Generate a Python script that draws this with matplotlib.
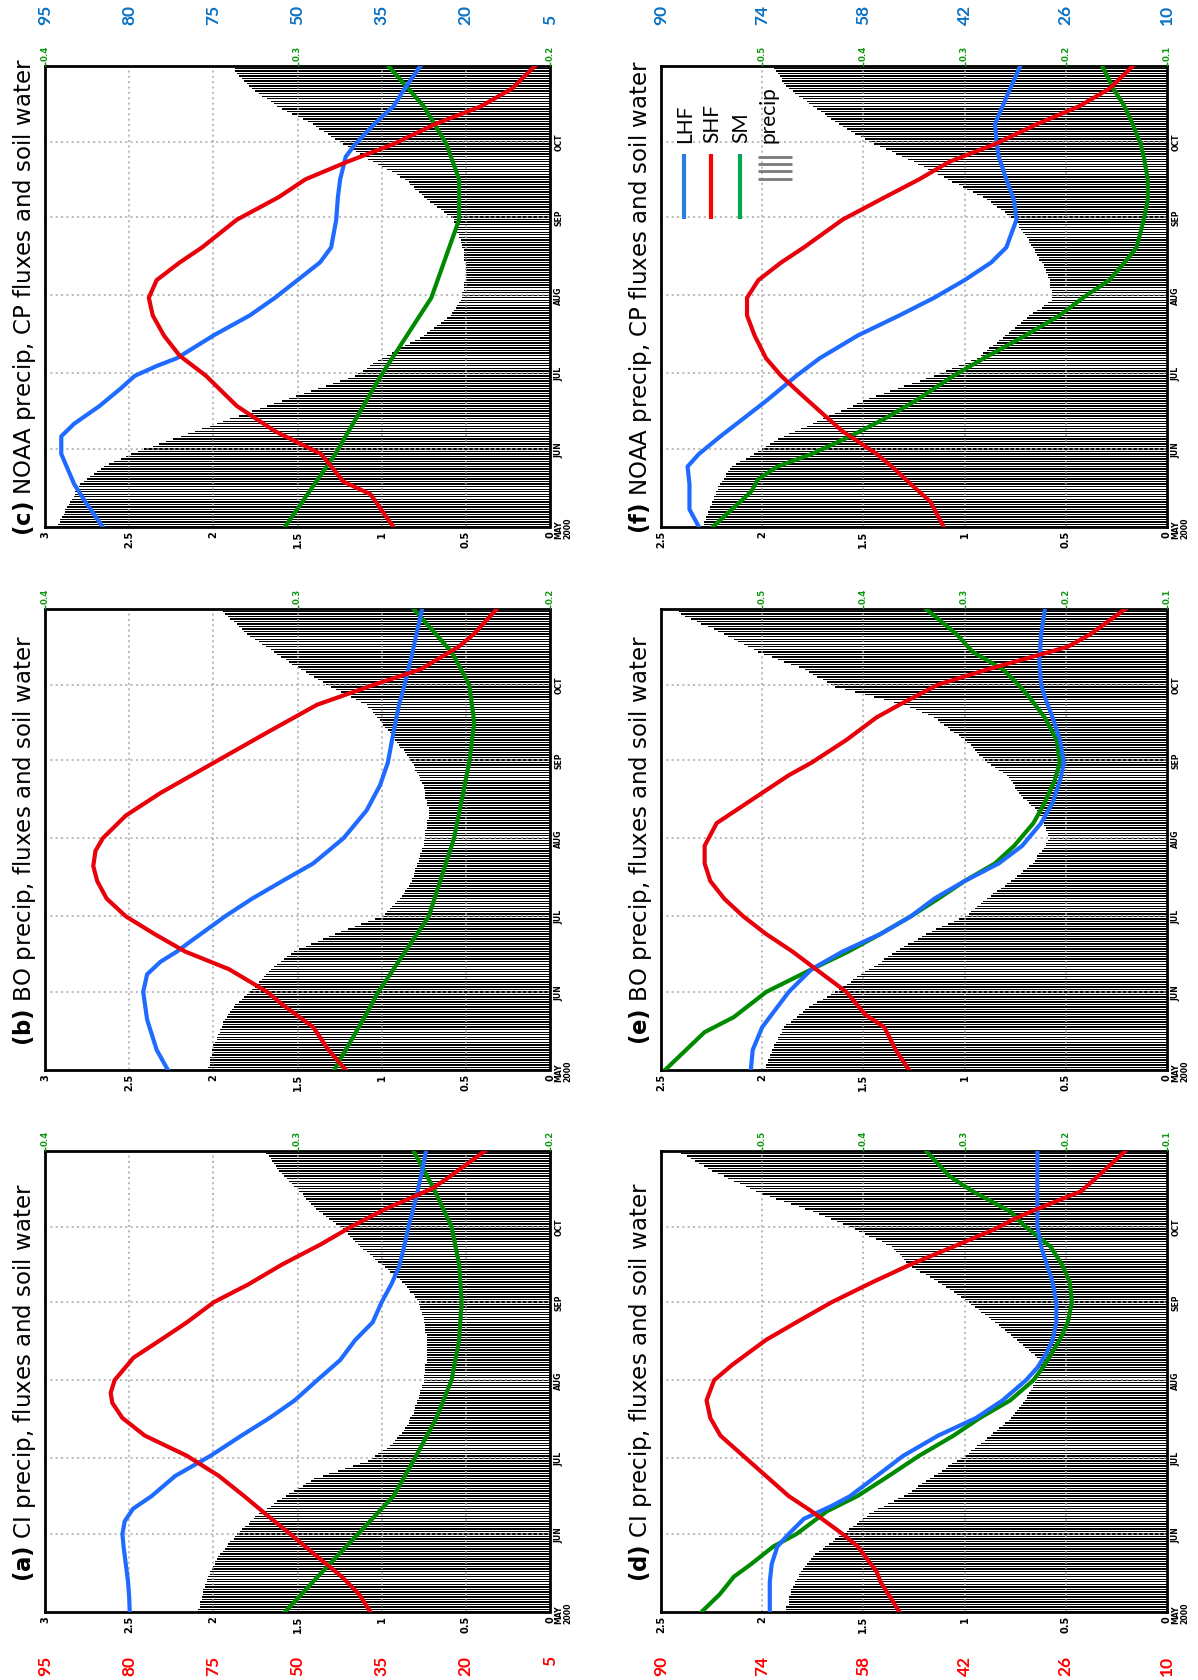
import numpy as np
import matplotlib
matplotlib.use("Agg")
import matplotlib.pyplot as plt
from matplotlib.lines import Line2D

plt.rcParams["font.family"] = ["DejaVu Sans"]

# ---------------------------------------------------------------- data
# Day index 0 = 1 May 2000, 183 = 31 Oct 2000
month_days = [0, 31, 61, 92, 123, 153]
month_labels = ["MAY\n2000", "JUN", "JUL", "AUG", "SEP", "OCT"]

# Daily precipitation (mm/day) for each run
precip_a = [2.09, 2.09, 2.08, 2.08, 2.08, 2.07, 2.07, 2.06, 2.06, 2.06, 2.05,
            2.05, 2.04, 2.04, 2.03, 2.02, 2.02, 2.01, 2.00, 1.99, 1.99,
            1.98, 1.97, 1.96, 1.94, 1.93, 1.92, 1.91, 1.90, 1.88, 1.87,
            1.86, 1.84, 1.83, 1.81, 1.79, 1.78, 1.76,
            1.75, 1.73, 1.71, 1.68, 1.66, 1.64, 1.62, 1.59,
            1.57, 1.55, 1.52, 1.50, 1.47, 1.45, 1.42,
            1.40, 1.35, 1.31, 1.26, 1.22, 1.17, 1.13,
            1.08, 1.06, 1.04, 1.02, 0.99, 0.97, 0.95,
            0.93, 0.92, 0.91, 0.90, 0.88, 0.87, 0.86,
            0.85, 0.84, 0.84, 0.83, 0.82, 0.81, 0.81,
            0.80, 0.80, 0.79, 0.79, 0.78, 0.78, 0.77, 0.77, 0.76, 0.76, 0.75,
            0.75, 0.75, 0.75, 0.74, 0.74, 0.74, 0.74, 0.73, 0.73, 0.73,
            0.73, 0.73, 0.73, 0.73, 0.73, 0.73, 0.73,
            0.73, 0.73, 0.74, 0.74, 0.74, 0.74, 0.75,
            0.75, 0.75, 0.76, 0.76, 0.77, 0.77, 0.78,
            0.78, 0.79, 0.80, 0.81, 0.83, 0.84, 0.85,
            0.86, 0.88, 0.89, 0.91, 0.93, 0.95, 0.96,
            0.98, 1.00, 1.02, 1.04, 1.05, 1.07, 1.09,
            1.11, 1.13, 1.14, 1.16, 1.17, 1.19, 1.20, 1.22, 1.23,
            1.25, 1.27, 1.29, 1.31, 1.33, 1.35, 1.37,
            1.39, 1.40, 1.42, 1.43, 1.45, 1.46, 1.47, 1.49,
            1.50, 1.52, 1.53, 1.55, 1.56, 1.58, 1.59,
            1.61, 1.62, 1.63, 1.64, 1.65, 1.66, 1.67, 1.69, 1.70]

precip_b = [2.03, 2.03, 2.02, 2.02, 2.02, 2.02, 2.01, 2.01,
            2.01, 2.00, 2.00, 1.99, 1.98, 1.98, 1.97, 1.96, 1.96, 1.95, 1.94, 1.94,
            1.93, 1.92, 1.91, 1.90, 1.89, 1.88,
            1.87, 1.85, 1.83, 1.82, 1.80,
            1.78, 1.77, 1.75, 1.74, 1.73, 1.71, 1.70, 1.69, 1.67,
            1.66, 1.64, 1.62, 1.60, 1.58, 1.56, 1.54,
            1.52, 1.49, 1.45, 1.42, 1.38, 1.35, 1.31,
            1.28, 1.24, 1.20, 1.16, 1.12, 1.08, 1.04,
            1.00, 0.98, 0.97, 0.95, 0.94, 0.92, 0.91,
            0.89, 0.88, 0.87, 0.86, 0.85, 0.84, 0.83,
            0.82, 0.82, 0.81, 0.81, 0.80, 0.80, 0.79, 0.79, 0.78, 0.78, 0.77, 0.77, 0.76, 0.76,
            0.75, 0.75, 0.75, 0.74, 0.74, 0.74, 0.74, 0.73, 0.73, 0.73, 0.73, 0.72, 0.72, 0.72,
            0.72, 0.72, 0.73, 0.73, 0.73, 0.74, 0.74, 0.74, 0.74, 0.75,
            0.75, 0.76, 0.77, 0.77, 0.78, 0.79, 0.80, 0.80, 0.81,
            0.82, 0.83, 0.84, 0.85, 0.86, 0.87, 0.89, 0.90, 0.91, 0.92, 0.93, 0.94,
            0.95, 0.96, 0.98, 0.99, 1.00, 1.01, 1.03, 1.04, 1.05, 1.06, 1.08,
            1.09, 1.12, 1.15, 1.18, 1.21, 1.24, 1.27,
            1.30, 1.33, 1.35, 1.38, 1.40, 1.43, 1.45, 1.48, 1.50, 1.53,
            1.55, 1.57, 1.60, 1.62, 1.64, 1.66, 1.69, 1.71, 1.73, 1.75, 1.78,
            1.80, 1.82, 1.83, 1.85, 1.86, 1.88, 1.90, 1.91, 1.93, 1.94, 1.96]

precip_c = [2.93, 2.92, 2.91, 2.91, 2.90, 2.89, 2.88,
            2.88, 2.87, 2.86, 2.85, 2.84, 2.83, 2.82, 2.82, 2.81, 2.80,
            2.79, 2.77, 2.75, 2.73, 2.71, 2.69, 2.67,
            2.65, 2.62, 2.59, 2.55, 2.52,
            2.49, 2.45, 2.41, 2.36, 2.32, 2.28, 2.24, 2.19, 2.15, 2.11, 2.07, 2.02, 1.98, 1.94, 1.90, 1.85,
            1.81, 1.77, 1.72, 1.68, 1.64, 1.59, 1.55, 1.51, 1.46, 1.42, 1.38, 1.33, 1.29, 1.25, 1.20,
            1.16, 1.14, 1.11, 1.09, 1.07, 1.05, 1.02,
            1.00, 0.97, 0.94, 0.91, 0.89, 0.86, 0.83, 0.80,
            0.77, 0.75, 0.73, 0.71, 0.69, 0.67, 0.65, 0.63, 0.61,
            0.59, 0.58, 0.57, 0.56, 0.55, 0.54, 0.53,
            0.52, 0.52, 0.52, 0.51, 0.51, 0.51, 0.51, 0.50, 0.50, 0.50,
            0.50, 0.50, 0.50, 0.50, 0.50, 0.51, 0.51, 0.51, 0.51,
            0.51, 0.52, 0.52, 0.53, 0.53, 0.54, 0.54, 0.55, 0.55, 0.56, 0.56, 0.57,
            0.57, 0.59, 0.61, 0.63, 0.65, 0.67, 0.69, 0.71,
            0.73, 0.75, 0.76, 0.78, 0.80, 0.81, 0.83, 0.84,
            0.86, 0.89, 0.91, 0.94, 0.97, 1.00, 1.02,
            1.05, 1.08, 1.10, 1.13, 1.15, 1.18, 1.20,
            1.23, 1.25, 1.28, 1.30, 1.32, 1.34, 1.37, 1.39,
            1.41, 1.44, 1.47, 1.50, 1.53, 1.56, 1.59,
            1.62, 1.64, 1.66, 1.68, 1.71, 1.73, 1.75,
            1.77, 1.79, 1.80, 1.82, 1.83, 1.85,
            1.86, 1.87, 1.87, 1.88]

precip_d = [1.88, 1.88, 1.88, 1.87, 1.87, 1.87, 1.87, 1.86, 1.86,
            1.86, 1.85, 1.84, 1.84, 1.83, 1.82, 1.82,
            1.81, 1.80, 1.79, 1.78, 1.77, 1.76, 1.75,
            1.74, 1.72, 1.70, 1.69, 1.67, 1.65, 1.64, 1.62,
            1.60, 1.58, 1.57, 1.55, 1.53, 1.52, 1.50, 1.48, 1.47,
            1.45, 1.43, 1.40, 1.38, 1.35, 1.33,
            1.30, 1.28, 1.26, 1.24, 1.23, 1.21, 1.19, 1.17,
            1.15, 1.13, 1.11, 1.09, 1.08, 1.06, 1.04, 1.02,
            1.00, 0.98, 0.97, 0.95, 0.94, 0.92, 0.90, 0.89,
            0.87, 0.86, 0.84, 0.83, 0.81, 0.80, 0.78,
            0.77, 0.76, 0.75, 0.74, 0.73, 0.72, 0.71,
            0.70, 0.69, 0.69, 0.68, 0.67, 0.66, 0.66, 0.65,
            0.64, 0.64, 0.64, 0.63, 0.63, 0.63, 0.63, 0.62,
            0.62, 0.64, 0.65, 0.67, 0.68, 0.70, 0.71, 0.73,
            0.74, 0.76, 0.77, 0.79, 0.80, 0.82, 0.83,
            0.85, 0.87, 0.88, 0.90, 0.92, 0.93, 0.95, 0.97,
            0.98, 1.00, 1.02, 1.04, 1.05, 1.07, 1.09,
            1.11, 1.13, 1.15, 1.17, 1.19, 1.22, 1.24,
            1.26, 1.27, 1.29, 1.30, 1.31, 1.32, 1.34, 1.35,
            1.36, 1.39, 1.41, 1.44, 1.47, 1.49, 1.52, 1.54,
            1.57, 1.60, 1.63, 1.66, 1.69, 1.72,
            1.75, 1.79, 1.82, 1.86, 1.89, 1.93, 1.96,
            2.00, 2.03, 2.06, 2.08, 2.11, 2.14, 2.17, 2.19, 2.22,
            2.25, 2.27, 2.29, 2.31, 2.33, 2.35, 2.37, 2.40, 2.42]

precip_e = [1.99, 1.98, 1.98, 1.97, 1.97, 1.96, 1.96, 1.95,
            1.95, 1.94, 1.94, 1.93, 1.92, 1.92, 1.91, 1.90, 1.90,
            1.89, 1.88, 1.86, 1.85, 1.83, 1.82, 1.80, 1.79,
            1.77, 1.75, 1.73, 1.70, 1.68, 1.66,
            1.64, 1.62, 1.60, 1.58, 1.56, 1.55, 1.53, 1.51, 1.49,
            1.47, 1.45, 1.43, 1.41, 1.40, 1.38, 1.36,
            1.34, 1.32, 1.30, 1.28, 1.25, 1.23, 1.21,
            1.19, 1.16, 1.14, 1.11, 1.08, 1.05, 1.03,
            1.00, 0.98, 0.97, 0.95, 0.94, 0.92, 0.91,
            0.89, 0.87, 0.86, 0.84, 0.82, 0.80, 0.79,
            0.77, 0.75, 0.74, 0.72, 0.71, 0.69, 0.68,
            0.66, 0.65, 0.64, 0.64, 0.63, 0.62, 0.61, 0.60, 0.60, 0.59,
            0.58, 0.59, 0.59, 0.60, 0.60, 0.61, 0.61, 0.62, 0.62, 0.63, 0.63,
            0.64, 0.65, 0.67, 0.68, 0.69, 0.71,
            0.72, 0.73, 0.74, 0.75, 0.75, 0.76, 0.77, 0.78,
            0.79, 0.81, 0.83, 0.85, 0.87,
            0.89, 0.90, 0.91, 0.93, 0.94, 0.95, 0.96, 0.97, 0.99,
            1.00, 1.02, 1.03, 1.05, 1.07, 1.08, 1.10, 1.12, 1.13,
            1.15, 1.18, 1.21, 1.24, 1.27,
            1.30, 1.35, 1.40, 1.45, 1.49, 1.54, 1.59,
            1.64, 1.66, 1.68, 1.70, 1.73, 1.75, 1.77,
            1.79, 1.82, 1.86, 1.89, 1.92, 1.95, 1.99,
            2.02, 2.04, 2.07, 2.09, 2.12, 2.14, 2.17,
            2.19, 2.22, 2.24, 2.27, 2.30, 2.32, 2.35,
            2.38, 2.40, 2.41, 2.43]

precip_f = [2.30, 2.29, 2.29, 2.28, 2.28, 2.27, 2.27,
            2.26, 2.26, 2.25, 2.25, 2.24, 2.24, 2.23, 2.23, 2.22, 2.22,
            2.21, 2.20, 2.19, 2.18, 2.18, 2.17, 2.16,
            2.15, 2.13, 2.11, 2.08, 2.06,
            2.04, 2.02, 2.00, 1.98, 1.96,
            1.94, 1.92, 1.89, 1.87,
            1.84, 1.81, 1.78, 1.75, 1.73, 1.70, 1.67,
            1.64, 1.61, 1.58, 1.55, 1.53, 1.50, 1.47,
            1.44, 1.40, 1.37, 1.33, 1.30, 1.26, 1.22, 1.19,
            1.15, 1.12, 1.09, 1.06, 1.03, 1.00, 0.97,
            0.94, 0.92, 0.91, 0.89, 0.88, 0.86, 0.84, 0.83,
            0.81, 0.80, 0.78, 0.77, 0.75, 0.74, 0.72, 0.71, 0.69,
            0.68, 0.66, 0.64, 0.62, 0.61, 0.59,
            0.57, 0.57, 0.57, 0.57, 0.57, 0.58, 0.58, 0.58,
            0.58, 0.59, 0.59, 0.60, 0.60, 0.61, 0.61,
            0.62, 0.63, 0.63, 0.64, 0.65, 0.65,
            0.66, 0.67, 0.68, 0.68, 0.69, 0.70, 0.71, 0.72, 0.73, 0.73, 0.74,
            0.75, 0.77, 0.79, 0.80, 0.82, 0.84, 0.86, 0.87,
            0.89, 0.91, 0.94, 0.96, 0.99, 1.01, 1.03, 1.06,
            1.08, 1.10, 1.13, 1.15, 1.18, 1.20, 1.23,
            1.25, 1.28, 1.31, 1.34, 1.36, 1.39, 1.42,
            1.45, 1.47, 1.49, 1.51, 1.54, 1.56, 1.58,
            1.60, 1.62, 1.64, 1.66, 1.68, 1.69, 1.71, 1.73,
            1.75, 1.77, 1.78, 1.80, 1.82, 1.84, 1.85,
            1.87, 1.88, 1.89, 1.90, 1.90, 1.91, 1.92, 1.93, 1.94, 1.95]

# Latent heat flux (W/m2): sample days and values
lhf_a_days = [0, 6, 12, 19, 26, 31, 36, 41, 46, 54, 62, 70, 77, 84, 92, 100, 108, 115, 123, 130, 137, 145, 153, 165, 175, 183]
lhf_a = [79.9, 80.0, 80.2, 80.6, 81.0, 81.2, 80.8, 79.3, 76.0, 71.8, 65.5, 60.0, 55.0, 50.5, 46.5, 42.4, 39.7, 36.6, 35.0, 33.3, 31.9, 31.0, 30.2, 28.8, 27.8, 27.1]
lhf_b_days = [0, 8, 20, 31, 38, 43, 47, 50, 61, 68, 75, 82, 92, 103, 113, 122, 134, 145, 153, 166, 183]
lhf_b = [73.1, 75.1, 76.8, 77.5, 76.8, 74.4, 71.5, 69.7, 62.9, 58.1, 52.7, 47.2, 41.8, 37.7, 35.3, 33.9, 32.9, 31.9, 30.9, 29.5, 27.8]
lhf_c_days = [0, 10, 17, 29, 36, 41, 48, 55, 60, 64, 67, 76, 84, 91, 98, 105, 111, 122, 131, 138, 147, 152, 160, 167, 174, 183]
lhf_c = [84.7, 87.8, 89.8, 92.1, 92.1, 89.8, 85.3, 81.5, 79.0, 75.0, 71.5, 65.0, 58.5, 54.0, 50.0, 46.0, 44.0, 43.1, 42.8, 42.4, 41.4, 39.7, 36.3, 32.9, 30.9, 28.1]
lhf_d_days = [0, 12, 19, 26, 31, 37, 42, 46, 54, 62, 70, 77, 84, 92, 97, 103, 108, 115, 123, 131, 138, 145, 153, 165, 183]
lhf_d = [72.8, 72.8, 72.5, 71.6, 69.8, 67.4, 63.1, 60.1, 55.9, 51.7, 46.2, 40.2, 36.0, 32.3, 30.5, 29.0, 28.1, 27.5, 27.5, 28.1, 29.0, 29.9, 30.5, 30.5, 30.5]
lhf_e_days = [0, 8, 17, 25, 31, 40, 47, 54, 61, 68, 75, 82, 89, 98, 106, 115, 122, 131, 140, 148, 153, 162, 173, 183]
lhf_e = [75.8, 75.5, 74.0, 71.6, 69.8, 66.2, 61.3, 55.3, 50.5, 46.8, 42.0, 36.6, 32.9, 29.9, 28.1, 26.9, 26.3, 26.9, 28.1, 29.3, 29.9, 30.2, 29.9, 29.3]
lhf_f_days = [0, 7, 17, 24, 29, 36, 43, 50, 60, 67, 76, 84, 91, 98, 105, 111, 122, 130, 138, 147, 152, 160, 167, 174, 183]
lhf_f = [84.0, 85.5, 85.5, 85.8, 84.0, 80.6, 77.0, 73.4, 68.6, 64.9, 58.9, 52.3, 46.8, 42.0, 37.8, 35.4, 33.8, 34.2, 35.4, 36.6, 36.9, 37.2, 36.0, 34.8, 33.2]

# Sensible heat flux (W/m2)
shf_a_days = [0, 7, 14, 22, 31, 38, 46, 54, 62, 70, 77, 83, 87, 92, 101, 108, 115, 123, 130, 138, 146, 153, 160, 168, 172, 183]
shf_a = [37.0, 39.0, 42.1, 46.5, 51.3, 55.2, 59.5, 64.0, 69.7, 77.2, 81.2, 83.0, 83.3, 82.6, 79.2, 74.4, 69.7, 64.9, 58.8, 52.7, 45.8, 40.4, 34.3, 26.1, 23.4, 16.6]
shf_b_days = [0, 8, 17, 26, 31, 40, 47, 54, 61, 68, 75, 81, 87, 92, 101, 110, 122, 134, 145, 153, 159, 168, 173, 183]
shf_b = [41.4, 44.5, 47.2, 52.7, 55.4, 62.2, 70.0, 75.5, 80.6, 84.0, 85.7, 86.4, 86.0, 84.7, 80.6, 74.4, 64.9, 55.4, 46.5, 36.3, 28.1, 21.3, 18.6, 14.5]
shf_c_days = [0, 13, 18, 29, 38, 48, 60, 68, 76, 84, 91, 98, 105, 111, 122, 131, 138, 145, 152, 160, 167, 174, 183]
shf_c = [32.9, 37.0, 41.8, 45.8, 54.0, 60.8, 66.3, 71.0, 73.8, 75.8, 76.5, 75.1, 71.0, 67.0, 60.8, 53.3, 48.6, 41.1, 32.9, 25.4, 17.3, 11.8, 7.7]
shf_d_days = [0, 12, 16, 26, 31, 40, 46, 54, 62, 70, 77, 84, 92, 98, 108, 115, 123, 131, 138, 145, 152, 156, 160, 167, 173, 183]
shf_d = [52.3, 55.3, 55.9, 58.9, 61.3, 66.2, 69.8, 73.4, 77.0, 80.6, 82.2, 82.8, 81.6, 78.8, 73.4, 68.6, 63.0, 56.5, 50.5, 43.8, 37.2, 34.2, 30.5, 23.6, 20.9, 16.6]
shf_e_days = [0, 8, 17, 22, 31, 40, 47, 54, 61, 68, 75, 82, 89, 98, 103, 110, 117, 122, 131, 140, 145, 153, 159, 165, 168, 173, 183]
shf_e = [50.8, 52.9, 54.7, 57.7, 60.7, 65.5, 69.2, 73.4, 77.0, 80.0, 82.2, 83.1, 83.1, 81.2, 78.2, 74.0, 69.8, 66.2, 60.7, 55.9, 52.3, 46.2, 38.4, 29.9, 25.7, 22.1, 16.6]
shf_f_days = [0, 10, 17, 24, 29, 38, 46, 53, 60, 67, 76, 84, 91, 98, 105, 111, 122, 130, 138, 145, 152, 160, 167, 174, 183]
shf_f = [45.3, 47.4, 50.5, 53.5, 55.9, 61.3, 64.9, 68.0, 71.0, 73.4, 75.2, 76.4, 76.4, 74.6, 71.0, 67.4, 61.3, 55.3, 49.2, 44.4, 37.2, 30.5, 23.9, 19.1, 15.4]

# Soil moisture (volumetric)
sm_a_days = [0, 14, 31, 46, 62, 77, 92, 108, 123, 138, 153, 168, 183]
sm_a = [0.305, 0.292, 0.276, 0.262, 0.253, 0.245, 0.239, 0.236, 0.235, 0.236, 0.239, 0.246, 0.254]
sm_b_days = [0, 20, 31, 61, 92, 122, 138, 153, 166, 183]
sm_b = [0.2855, 0.274, 0.268, 0.248, 0.238, 0.232, 0.230, 0.232, 0.239, 0.254]
sm_c_days = [0, 29, 60, 91, 122, 138, 152, 167, 183]
sm_c = [0.305, 0.285, 0.267, 0.247, 0.236, 0.236, 0.241, 0.250, 0.264]
sm_d_days = [0, 7, 14, 19, 26, 31, 40, 46, 54, 62, 70, 77, 84, 92, 98, 108, 115, 123, 131, 138, 145, 153, 159, 167, 173, 183]
sm_d = [0.560, 0.542, 0.528, 0.511, 0.489, 0.466, 0.436, 0.406, 0.375, 0.345, 0.311, 0.285, 0.255, 0.232, 0.221, 0.206, 0.198, 0.194, 0.196, 0.204, 0.215, 0.240, 0.255, 0.292, 0.315, 0.338]
sm_e_days = [0, 15, 21, 26, 31, 40, 47, 54, 61, 68, 75, 82, 89, 98, 106, 115, 122, 131, 140, 148, 153, 159, 166, 173, 183]
sm_e = [0.596, 0.557, 0.528, 0.512, 0.496, 0.451, 0.415, 0.383, 0.353, 0.326, 0.300, 0.270, 0.251, 0.232, 0.221, 0.211, 0.206, 0.209, 0.221, 0.236, 0.247, 0.262, 0.292, 0.308, 0.338]
sm_f_days = [0, 7, 14, 19, 24, 29, 36, 43, 50, 60, 67, 76, 84, 91, 98, 105, 111, 122, 130, 138, 147, 152, 160, 167, 174, 183]
sm_f = [0.549, 0.530, 0.511, 0.504, 0.485, 0.451, 0.413, 0.379, 0.349, 0.311, 0.281, 0.240, 0.206, 0.183, 0.157, 0.142, 0.130, 0.123, 0.119, 0.119, 0.123, 0.126, 0.134, 0.142, 0.153, 0.164]

# Axis scales for the two columns of panels
left_precip_ticks = [3, 2.5, 2, 1.5, 1, 0.5, 0]
left_precip_labels = ["3", "2.5", "2", "1.5", "1", "0.5", "0"]
left_sm_ticks = [0.4, 0.3, 0.2]
left_flux_ticks = [95, 80, 65, 50, 35, 20, 5]
left_flux_labels = ["95", "80", "75", "50", "35", "20", "5"]

right_precip_ticks = [2.5, 2, 1.5, 1, 0.5, 0]
right_precip_labels = ["2.5", "2", "1.5", "1", "0.5", "0"]
right_sm_ticks = [0.5, 0.4, 0.3, 0.2, 0.1]
right_flux_ticks = [90, 74, 58, 42, 26, 10]
right_flux_labels = ["90", "74", "58", "42", "26", "10"]

titles = {
    "a": "CI precip, fluxes and soil water",
    "b": "BO precip, fluxes and soil water",
    "c": "NOAA precip, CP fluxes and soil water",
    "d": "CI precip, fluxes and soil water",
    "e": "BO precip, fluxes and soil water",
    "f": "NOAA precip, CP fluxes and soil water",
}

# ---------------------------------------------------------------- style
W, H = 1198, 1681
LHF_C = "#1f6bff"
SHF_C = "#e8000b"
SM_C = "#008a00"
GRID_C = "#a6a6a6"
TICK_GREEN = "#119911"
FLUX_BLUE = "#0a72c4"
FLUX_RED = "#ff0000"
LBL_FONT = ["DejaVu Sans"]
NUM_FONT = ["Lato", "DejaVu Sans"]

fig = plt.figure(figsize=(W / 100, H / 100), dpi=100)
fig.patch.set_facecolor("white")


def rect(x0, x1, yt, yb):
    return [x0 / W, 1 - yb / H, (x1 - x0) / W, (yb - yt) / H]


columns = {
    0: dict(x0=45, x1=550, pmax=3.0, pt=left_precip_ticks, pl=left_precip_labels,
            smlim=(0.4, 0.2), smt=left_sm_ticks, flim=(95, 5),
            ft=left_flux_ticks, fl=left_flux_labels, title_x=25),
    1: dict(x0=661, x1=1167, pmax=2.5, pt=right_precip_ticks, pl=right_precip_labels,
            smlim=(0.6, 0.1), smt=right_sm_ticks, flim=(90, 10),
            ft=right_flux_ticks, fl=right_flux_labels, title_x=640),
}
rows = {"top": (67, 528), "mid": (610, 1071), "bot": (1152, 1613)}


def draw_panel(col, row, letter, precip, lhf_days, lhf, shf_days, shf, sm_days, sm):
    c = columns[col]
    yt, yb = rows[row]
    ax = fig.add_axes(rect(c["x0"], c["x1"], yt, yb))
    ax.set_facecolor("white")
    days = np.arange(len(precip))
    # daily precipitation drawn as thin horizontal bars growing from the zero edge
    ax.barh(days, precip, height=0.55, left=0, color="black", linewidth=0,
            antialiased=False, zorder=2)
    ax.set_xlim(c["pmax"], 0)
    ax.set_ylim(0, 183)

    for p in c["pt"][1:-1]:
        ax.axvline(p, color=GRID_C, lw=1.1, ls=(0, (1.3, 2.2)), zorder=3)
    for d in month_days[1:]:
        ax.axhline(d, color=GRID_C, lw=1.1, ls=(0, (1.3, 2.2)), zorder=3)

    ax.set_xticks(c["pt"], labels=c["pl"], fontweight="bold", fontsize=7,
                  rotation=90, family=LBL_FONT)
    ax.tick_params(axis="x", length=0, pad=2)
    ax.yaxis.tick_right()
    ax.set_yticks(month_days, labels=month_labels, fontweight="bold", fontsize=5.6,
                  rotation=90, va="center", family=LBL_FONT, linespacing=1.0)
    ax.tick_params(axis="y", length=0, pad=3)

    for s in ax.spines.values():
        s.set_linewidth(2.0)
        s.set_zorder(6)
    ax.spines["bottom"].set_linestyle((0, (1, 1)))

    # soil moisture on its own scale (value along x, day along y)
    axs = ax.twiny()
    axs.set_xlim(*c["smlim"])
    axs.set_xticks(c["smt"], labels=[f"{v:.1f}" for v in c["smt"]], fontweight="bold",
                   fontsize=6.2, rotation=90, color=TICK_GREEN, family=LBL_FONT)
    axs.tick_params(axis="x", top=True, bottom=False, labeltop=True, labelbottom=False,
                    length=3, width=1, color=TICK_GREEN, pad=1)
    axs.plot(sm, sm_days, color=SM_C, lw=3.0, solid_joinstyle="round", zorder=4)

    # surface fluxes on a shared W/m2 scale
    axf = ax.twiny()
    axf.set_xlim(*c["flim"])
    if row == "top":
        axf.set_xticks(c["ft"], labels=c["fl"], fontweight="bold", fontsize=12.5,
                       rotation=90, color=FLUX_BLUE, family=NUM_FONT)
        axf.tick_params(axis="x", top=True, bottom=False, labeltop=True,
                        labelbottom=False, length=0, pad=30)
    elif row == "bot":
        axf.set_xticks(c["ft"], labels=c["fl"], fontweight="bold", fontsize=12.5,
                       rotation=90, color=FLUX_RED, family=NUM_FONT)
        axf.tick_params(axis="x", top=False, bottom=True, labeltop=False,
                        labelbottom=True, length=0, pad=31)
    else:
        axf.set_xticks([])
    axf.plot(lhf, lhf_days, color=LHF_C, lw=3.0, solid_joinstyle="round", zorder=4)
    axf.plot(shf, shf_days, color=SHF_C, lw=3.0, solid_joinstyle="round", zorder=5)

    for t in (axs, axf):
        for s in t.spines.values():
            s.set_visible(False)

    fig.text(c["title_x"] / W, 1 - (yt + yb) / 2 / H,
             rf"$\mathbf{{({letter})}}$ " + titles[letter],
             rotation=90, ha="center", va="center", fontsize=16.5)
    return ax


draw_panel(0, "bot", "a", precip_a, lhf_a_days, lhf_a, shf_a_days, shf_a, sm_a_days, sm_a)
draw_panel(0, "mid", "b", precip_b, lhf_b_days, lhf_b, shf_b_days, shf_b, sm_b_days, sm_b)
draw_panel(0, "top", "c", precip_c, lhf_c_days, lhf_c, shf_c_days, shf_c, sm_c_days, sm_c)
draw_panel(1, "bot", "d", precip_d, lhf_d_days, lhf_d, shf_d_days, shf_d, sm_d_days, sm_d)
draw_panel(1, "mid", "e", precip_e, lhf_e_days, lhf_e, shf_e_days, shf_e, sm_e_days, sm_e)
draw_panel(1, "top", "f", precip_f, lhf_f_days, lhf_f, shf_f_days, shf_f, sm_f_days, sm_f)


# legend inside panel (f)
def fx(x):
    return x / W


def fy(y):
    return 1 - y / H


legend_items = [("LHF", "#2a7de1", 685), ("SHF", "#ff0000", 712), ("SM", "#00a650", 741)]
for name, colr, x in legend_items:
    fig.add_artist(Line2D([fx(x - 1), fx(x - 1)], [fy(155), fy(220)], color=colr, lw=3.0,
                          transform=fig.transFigure, solid_capstyle="butt"))
    fig.text(fx(x), fy(143), name, rotation=90, ha="center", va="bottom",
             fontsize=15, family=NUM_FONT)
for y in (158, 165, 172, 180):
    fig.add_artist(Line2D([fx(758), fx(792)], [fy(y), fy(y)], color="#7a7a7a", lw=2.0,
                          transform=fig.transFigure, solid_capstyle="butt"))
fig.text(fx(768), fy(143), "precip", rotation=90, ha="center", va="bottom",
         fontsize=15, family=NUM_FONT)

fig.savefig("out.png", dpi=100, facecolor="white")
